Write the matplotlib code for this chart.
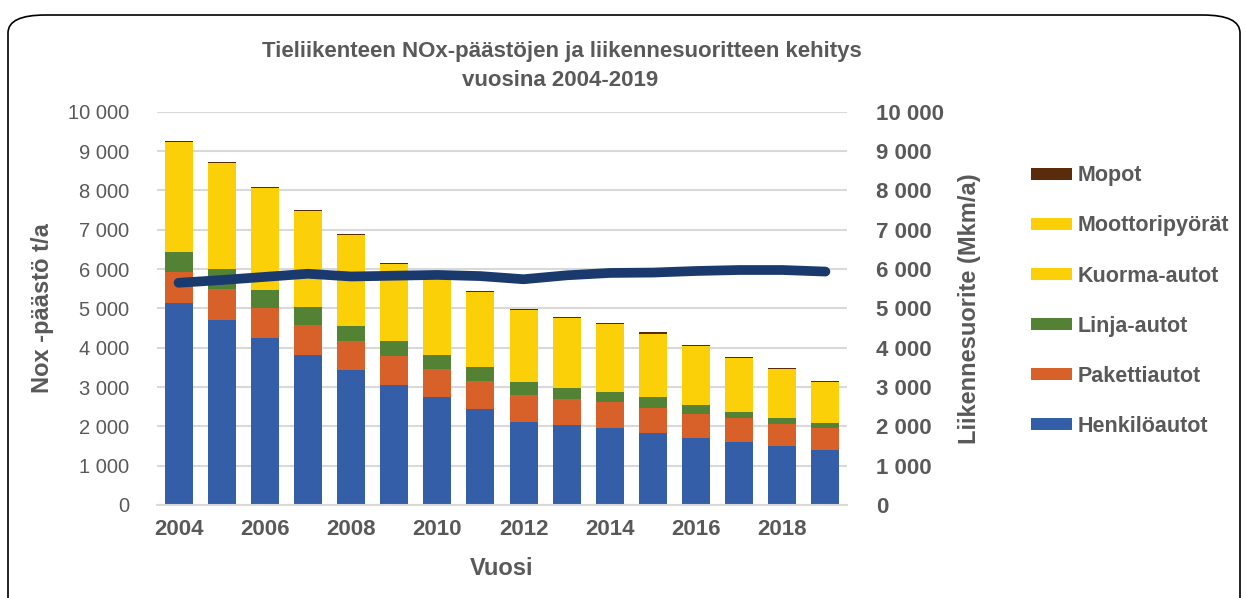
import numpy as np
import matplotlib
matplotlib.use('Agg')
import matplotlib.pyplot as plt
from matplotlib.patches import Patch, FancyBboxPatch
from matplotlib.ticker import FuncFormatter

plt.rcParams['font.family'] = ['Liberation Sans', 'DejaVu Sans']

years = list(range(2004, 2020))
henkiloautot = [5130, 4710, 4240, 3810, 3430, 3050, 2740, 2450, 2120, 2030, 1950, 1820, 1710, 1610, 1510, 1410]
pakettiautot = [790, 780, 765, 765, 730, 740, 720, 710, 680, 660, 660, 650, 610, 610, 550, 550]
linja_autot = [515, 510, 465, 450, 390, 375, 365, 340, 315, 280, 260, 265, 215, 150, 155, 125]
kuorma_autot = [2750, 2640, 2540, 2395, 2270, 1905, 1880, 1860, 1785, 1735, 1670, 1575, 1460, 1305, 1185, 990]
moottoripyorat = [50, 50, 50, 50, 50, 50, 50, 50, 50, 50, 50, 50, 50, 50, 50, 50]
mopot = [30, 30, 30, 30, 30, 30, 30, 30, 30, 30, 30, 30, 30, 30, 30, 30]
liikennesuorite = [5650, 5720, 5800, 5880, 5810, 5830, 5850, 5820, 5740, 5840, 5900, 5910, 5950, 5975, 5975, 5935]

series = [
    ('Henkilöautot', henkiloautot, '#355EA8'),
    ('Pakettiautot', pakettiautot, '#D76128'),
    ('Linja-autot', linja_autot, '#548235'),
    ('Kuorma-autot', kuorma_autot, '#FCD008'),
    ('Moottoripyörät', moottoripyorat, '#FCD008'),
    ('Mopot', mopot, '#5B2C0C'),
]

TXT = '#595959'
GRID = '#D9D9D9'

fig = plt.figure(figsize=(12.46, 5.98), dpi=100)

# rounded frame around the chart
frame = FancyBboxPatch((8 / 1246, -0.2), 1232 / 1246, 1.2 - 15 / 598,
                       boxstyle='round,pad=0,rounding_size=0.03',
                       transform=fig.transFigure, fill=False, ec='black', lw=1.2)
fig.patches.append(frame)

ax = fig.add_axes([157 / 1246, 1 - 505 / 598, 690 / 1246, (505 - 111.7) / 598])
x = np.arange(len(years))
bottom = np.zeros(len(years))
for name, vals, col in series:
    ax.bar(x, vals, width=0.65, bottom=bottom, color=col, label=name, zorder=2)
    bottom += np.array(vals)

ax.set_xlim(-0.5, len(years) - 0.5)
ax.set_ylim(0, 10000)
ax.set_yticks(np.arange(0, 10001, 1000))
fmt = FuncFormatter(lambda v, p: f'{int(v):,}'.replace(',', ' '))
ax.yaxis.set_major_formatter(fmt)
ax.grid(axis='y', color=GRID, lw=1.5, zorder=0)
ax.set_axisbelow(True)
for s in ['top', 'right', 'left']:
    ax.spines[s].set_visible(False)
ax.spines['bottom'].set_color(GRID)
ax.spines['bottom'].set_linewidth(1.5)
ax.tick_params(axis='y', length=0, pad=20, labelsize=14.5, labelcolor=TXT)
ax.set_xticks(x[::2])
ax.set_xticklabels([str(y) for y in years[::2]], fontweight='bold')
ax.tick_params(axis='x', length=0, pad=10, labelsize=16, labelcolor=TXT)
ax.set_xlabel('Vuosi', fontsize=17, fontweight='bold', color=TXT, labelpad=12)
ax.set_ylabel('Nox -päästö t/a', fontsize=17, fontweight='bold', color=TXT, labelpad=10)

ax2 = ax.twinx()
ax2.plot(x, liikennesuorite, color='#1A3A6E', lw=7, solid_capstyle='round', solid_joinstyle='round', zorder=3)
ax2.set_ylim(0, 10000)
ax2.set_yticks(np.arange(0, 10001, 1000))
ax2.yaxis.set_major_formatter(fmt)
for s in ax2.spines.values():
    s.set_visible(False)
ax2.tick_params(axis='y', length=0, pad=21, labelsize=16, labelcolor=TXT)
for t in ax2.get_yticklabels():
    t.set_fontweight('bold')
ax2.set_ylabel('Liikennesuorite (Mkm/a)', fontsize=17, fontweight='bold', color=TXT, labelpad=10)

fig.text(562 / 1246, 1 - 57 / 598, 'Tieliikenteen NOx-päästöjen ja liikennesuoritteen kehitys',
         ha='center', va='baseline', fontsize=16, fontweight='bold', color=TXT)
fig.text(560 / 1246, 1 - 86 / 598, 'vuosina 2004-2019',
         ha='center', va='baseline', fontsize=16, fontweight='bold', color=TXT)

handles = [Patch(facecolor=col, label=name) for name, vals, col in reversed(series)]
leg = fig.legend(handles=handles, loc='upper left', bbox_to_anchor=(1012 / 1246, 1 - 146 / 598),
                 frameon=False, fontsize=15.5, handlelength=1.9, handleheight=0.5,
                 handletextpad=0.25, labelspacing=1.35)
for t in leg.get_texts():
    t.set_fontweight('bold')
    t.set_color(TXT)

fig.savefig('out.png', dpi=100)
